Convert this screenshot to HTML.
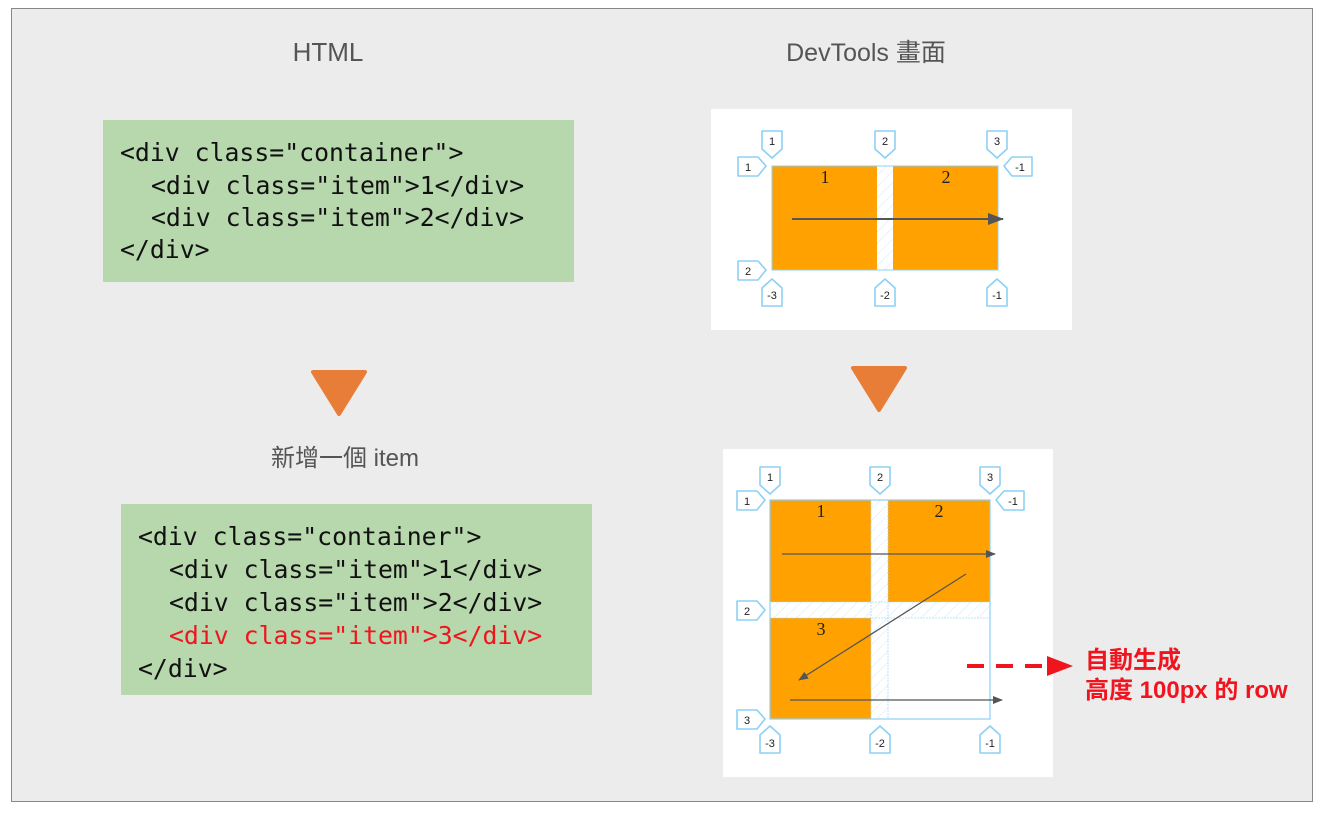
<!DOCTYPE html>
<html><head><meta charset="utf-8"><style>
html,body{margin:0;padding:0;background:#fff;}
svg{display:block}
.t{font-family:"Liberation Sans","Noto Sans CJK TC",sans-serif;}
.m{font-family:"DejaVu Sans Mono","Liberation Mono",monospace;font-size:24.8px;fill:#111;white-space:pre;}
.b{font-family:"Liberation Sans",sans-serif;font-size:11px;fill:#222;text-anchor:middle;}
.bd{fill:#fff;stroke:#8dd0f5;stroke-width:1.6;stroke-linejoin:round;}
.n{font-family:"Liberation Serif",serif;font-size:18px;fill:#222;text-anchor:middle;}
</style></head><body>
<svg width="1324" height="814" viewBox="0 0 1324 814" xmlns="http://www.w3.org/2000/svg">
<defs>
<marker id="ah" markerWidth="10" markerHeight="8" refX="9" refY="4" orient="auto" markerUnits="userSpaceOnUse"><path d="M0,0 L10,4 L0,8 Z" fill="#555"/></marker>
<marker id="ahb" markerWidth="16" markerHeight="12" refX="15" refY="6" orient="auto" markerUnits="userSpaceOnUse"><path d="M0,0 L16,6 L0,12 Z" fill="#555"/></marker>
<pattern id="hat" width="8" height="8" patternUnits="userSpaceOnUse" patternTransform="rotate(45)"><rect width="8" height="8" fill="#fff"/><line x1="0" y1="0" x2="0" y2="8" stroke="#cfeafa" stroke-width="1"/></pattern>
</defs>
<rect x="11.5" y="8.5" width="1301" height="793" fill="#ececec" stroke="#888" stroke-width="1"/>

<text class="t" x="328" y="61" font-size="26" fill="#555" text-anchor="middle">HTML</text>
<text class="t" x="866" y="61" font-size="25" fill="#555" text-anchor="middle">DevTools 畫面</text>
<text class="t" x="345" y="466" font-size="24" fill="#555" text-anchor="middle">新增一個 item</text>

<rect x="103" y="120" width="471" height="162" fill="#b7d7ad"/>
<text class="m" x="120" y="161">&lt;div class="container"&gt;</text>
<text class="m" x="151" y="194">&lt;div class="item"&gt;1&lt;/div&gt;</text>
<text class="m" x="151" y="226">&lt;div class="item"&gt;2&lt;/div&gt;</text>
<text class="m" x="120" y="258">&lt;/div&gt;</text>

<rect x="121" y="504" width="471" height="191" fill="#b7d7ad"/>
<text class="m" x="138" y="545">&lt;div class="container"&gt;</text>
<text class="m" x="169" y="578">&lt;div class="item"&gt;1&lt;/div&gt;</text>
<text class="m" x="169" y="611">&lt;div class="item"&gt;2&lt;/div&gt;</text>
<text class="m" x="169" y="644" style="fill:#f0141e">&lt;div class="item"&gt;3&lt;/div&gt;</text>
<text class="m" x="138" y="677">&lt;/div&gt;</text>

<polygon points="313,372 365,372 339,414" fill="#e87d37" stroke="#e87d37" stroke-width="4" stroke-linejoin="round"/>
<polygon points="853,368 905,368 879,410" fill="#e87d37" stroke="#e87d37" stroke-width="4" stroke-linejoin="round"/>

<!-- Panel 1 -->
<rect x="711" y="109" width="361" height="221" fill="#fff"/>
<rect x="772" y="166" width="105" height="104" fill="#ffa100"/>
<rect x="877" y="166" width="16" height="104" fill="url(#hat)"/>
<rect x="893" y="166" width="105" height="104" fill="#ffa100"/>
<rect x="772" y="166" width="226" height="104" fill="none" stroke="#8dd0f5" stroke-width="1"/>
<text class="n" x="825" y="183">1</text><text class="n" x="946" y="183">2</text>
<line x1="792" y1="219" x2="1003" y2="219" stroke="#555" stroke-width="2" marker-end="url(#ahb)"/>
<g>
<polygon class="bd" points="762,131 782,131 782,149 772,158 762,149"/><text class="b" x="772" y="145">1</text>
<polygon class="bd" points="875,131 895,131 895,149 885,158 875,149"/><text class="b" x="885" y="145">2</text>
<polygon class="bd" points="987,131 1007,131 1007,149 997,158 987,149"/><text class="b" x="997" y="145">3</text>
<polygon class="bd" points="738,157 758,157 766,166 758,176 738,176"/><text class="b" x="748" y="171">1</text>
<polygon class="bd" points="1032,157 1012,157 1004,166 1012,176 1032,176"/><text class="b" x="1020" y="171">-1</text>
<polygon class="bd" points="738,261 758,261 766,270 758,280 738,280"/><text class="b" x="748" y="275">2</text>
<polygon class="bd" points="762,306 782,306 782,288 772,279 762,288"/><text class="b" x="772" y="299">-3</text>
<polygon class="bd" points="875,306 895,306 895,288 885,279 875,288"/><text class="b" x="885" y="299">-2</text>
<polygon class="bd" points="987,306 1007,306 1007,288 997,279 987,288"/><text class="b" x="997" y="299">-1</text>
</g>

<!-- Panel 2 -->
<rect x="723" y="449" width="330" height="328" fill="#fff"/>
<rect x="770" y="500" width="101" height="102" fill="#ffa100"/>
<rect x="888" y="500" width="102" height="102" fill="#ffa100"/>
<rect x="770" y="618" width="101" height="101" fill="#ffa100"/>
<rect x="871" y="500" width="17" height="219" fill="url(#hat)"/>
<rect x="770" y="602" width="220" height="16" fill="url(#hat)"/>
<rect x="770" y="500" width="220" height="219" fill="none" stroke="#8dd0f5" stroke-width="1.2"/>
<g stroke="#a8dcf8" stroke-width="0.8" stroke-dasharray="2,1" fill="none">
<line x1="770" y1="602" x2="990" y2="602"/><line x1="770" y1="618" x2="990" y2="618"/>
<line x1="871" y1="500" x2="871" y2="719"/><line x1="888" y1="500" x2="888" y2="719"/>
</g>
<text class="n" x="821" y="517">1</text><text class="n" x="939" y="517">2</text><text class="n" x="821" y="635">3</text>
<line x1="782" y1="554" x2="995" y2="554" stroke="#555" stroke-width="1.3" marker-end="url(#ah)"/>
<line x1="966" y1="574" x2="799" y2="680" stroke="#555" stroke-width="1.3" marker-end="url(#ah)"/>
<line x1="790" y1="700" x2="1002" y2="700" stroke="#555" stroke-width="1.3" marker-end="url(#ah)"/>
<g>
<polygon class="bd" points="760,467 780,467 780,485 770,494 760,485"/><text class="b" x="770" y="481">1</text>
<polygon class="bd" points="870,467 890,467 890,485 880,494 870,485"/><text class="b" x="880" y="481">2</text>
<polygon class="bd" points="980,467 1000,467 1000,485 990,494 980,485"/><text class="b" x="990" y="481">3</text>
<polygon class="bd" points="737,491 757,491 765,500 757,510 737,510"/><text class="b" x="747" y="505">1</text>
<polygon class="bd" points="1024,491 1004,491 996,500 1004,510 1024,510"/><text class="b" x="1013" y="505">-1</text>
<polygon class="bd" points="737,601 757,601 765,610 757,620 737,620"/><text class="b" x="747" y="615">2</text>
<polygon class="bd" points="737,710 757,710 765,719 757,729 737,729"/><text class="b" x="747" y="724">3</text>
<polygon class="bd" points="760,753 780,753 780,735 770,726 760,735"/><text class="b" x="770" y="747">-3</text>
<polygon class="bd" points="870,753 890,753 890,735 880,726 870,735"/><text class="b" x="880" y="747">-2</text>
<polygon class="bd" points="980,753 1000,753 1000,735 990,726 980,735"/><text class="b" x="990" y="747">-1</text>
</g>

<line x1="967" y1="666" x2="1048" y2="666" stroke="#f0141e" stroke-width="4" stroke-dasharray="17,12"/>
<polygon points="1047,656 1073,666 1047,676" fill="#f0141e"/>
<text class="t" x="1085" y="668" font-size="24" font-weight="bold" fill="#f0141e">自動生成</text>
<text class="t" x="1085" y="698" font-size="24" font-weight="bold" fill="#f0141e">高度 100px 的 row</text>
</svg>
</body></html>
